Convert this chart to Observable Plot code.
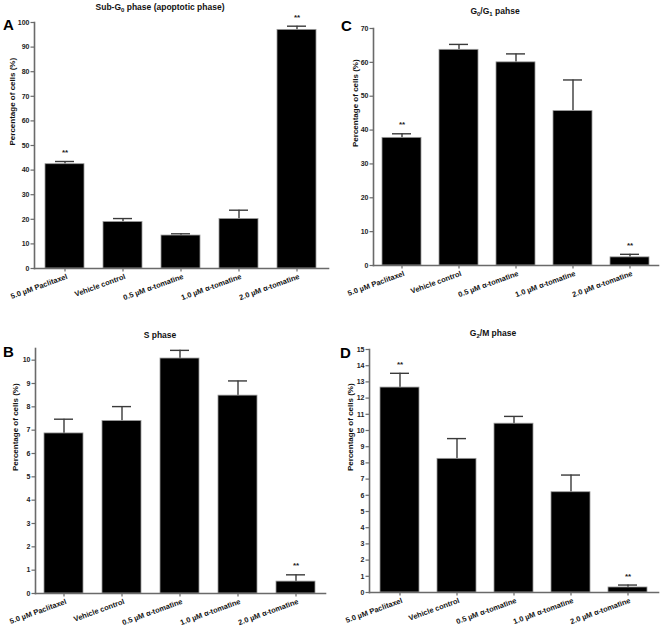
<!DOCTYPE html>
<html>
<head>
<meta charset="utf-8">
<script src="https://cdn.jsdelivr.net/npm/d3@7"></script>
<script src="https://cdn.jsdelivr.net/npm/@observablehq/plot@0.6"></script>
<style>
  html, body { margin: 0; padding: 0; background: #fff; }
  #wrap { position: relative; width: 661px; height: 632px; font-family: "Liberation Sans", Arial, sans-serif; }
  .panel { position: absolute; }
  .title { position: absolute; font-size: 8.5px; font-weight: bold; color: #111; transform: translate(-50%, -50%); white-space: nowrap; }
  .title sub { font-size: 6px; vertical-align: -2px; line-height: 0; }
  .letter { position: absolute; font-size: 15px; font-weight: bold; color: #000; line-height: 1; }
</style>
</head>
<body>
<div id="wrap"></div>
<script>
const groups = ["5.0 µM Paclitaxel", "Vehicle control", "0.5 µM α-tomatine", "1.0 µM α-tomatine", "2.0 µM α-tomatine"];

// A: Sub-G0 phase
const subG0Mean = [42.4, 18.9, 13.4, 20.1, 97.0];
const subG0Err  = [1.1, 1.4, 0.7, 3.6, 1.5];
const subG0Sig  = ["**", "", "", "", "**"];

// B: S phase
const sMean = [6.86, 7.39, 10.07, 8.48, 0.51];
const sErr  = [0.61, 0.62, 0.35, 0.63, 0.29];
const sSig  = ["", "", "", "", "**"];

// C: G0/G1 phase
const g0g1Mean = [37.7, 63.7, 60.0, 45.6, 2.4];
const g0g1Err  = [1.2, 1.6, 2.5, 9.2, 0.9];
const g0g1Sig  = ["**", "", "", "", "**"];

// D: G2/M phase
const g2mMean = [12.65, 8.25, 10.42, 6.19, 0.31];
const g2mErr  = [0.88, 1.25, 0.45, 1.06, 0.15];
const g2mSig  = ["**", "", "", "", "**"];

const yTicksA = d3.range(0, 101, 10);
const yTicksB = d3.range(0, 11, 1);
const yTicksC = d3.range(0, 71, 10);
const yTicksD = d3.range(0, 16, 1);

const yLabel = "Percentage of cells (%)";

const panels = [
  {letter: "A", title: "Sub-G<sub>0</sub> phase (apoptotic phase)", mean: subG0Mean, err: subG0Err, sig: subG0Sig,
   domain: [0, 100], ticks: yTicksA, left: 0, top: 0, width: 330, height: 316, ml: 34, mr: 2, mt: 22, mb: 48, labelDx: -22,
   titleX: 160, titleY: 7, letterX: 3, letterY: 17},
  {letter: "C", title: "G<sub>0</sub>/G<sub>1</sub> pahse", mean: g0g1Mean, err: g0g1Err, sig: g0g1Sig,
   domain: [0, 70], ticks: yTicksC, left: 330, top: 0, width: 331, height: 316, ml: 43, mr: 3, mt: 28, mb: 51, labelDx: -18,
   titleX: 495, titleY: 10.5, letterX: 341, letterY: 18},
  {letter: "B", title: "S phase", mean: sMean, err: sErr, sig: sSig,
   domain: [0, 10.5], ticks: yTicksB, left: 0, top: 316, width: 330, height: 316, ml: 35, mr: 5, mt: 32, mb: 39, labelDx: -20,
   titleX: 160, titleY: 335, letterX: 3, letterY: 344},
  {letter: "D", title: "G<sub>2</sub>/M phase", mean: g2mMean, err: g2mErr, sig: g2mSig,
   domain: [0, 15], ticks: yTicksD, left: 330, top: 316, width: 331, height: 316, ml: 39, mr: 3, mt: 33, mb: 40, labelDx: -19,
   titleX: 493, titleY: 333, letterX: 340, letterY: 345}
];

const wrap = document.getElementById("wrap");
const axisColor = "#6a6a6a";

for (const p of panels) {
  const data = groups.map((g, i) => ({g, mean: p.mean[i], top: p.mean[i] + p.err[i], sig: p.sig[i]}));
  const chart = Plot.plot({
    width: p.width,
    height: p.height,
    marginLeft: p.ml,
    marginRight: p.mr,
    marginTop: p.mt,
    marginBottom: p.mb,
    style: {fontFamily: "'Liberation Sans', Arial, sans-serif", background: "transparent", overflow: "visible"},
    x: {domain: groups, paddingInner: 0.32, paddingOuter: 0.16, label: null},
    y: {domain: p.domain, label: null},
    marks: [
      Plot.ruleX(data, {x: "g", y1: "mean", y2: "top", stroke: "#3a3a3a", strokeWidth: 1.4}),
      Plot.tickY(data, {x: "g", y: "top", stroke: "#3a3a3a", strokeWidth: 1.4, insetLeft: 10, insetRight: 10}),
      Plot.barY(data, {x: "g", y: "mean", fill: "#000", stroke: "#9a9a9a", strokeWidth: 0.8}),
      Plot.text(data, {x: "g", y: "top", text: "sig", dy: -9, fontSize: 8, fontWeight: "bold", fill: "#222"}),
      Plot.frame({anchor: "left", stroke: axisColor, strokeWidth: 1.6}),
      Plot.frame({anchor: "bottom", stroke: axisColor, strokeWidth: 1.6}),
      Plot.axisY({ticks: p.ticks, tickSize: 3.5, tickPadding: 1.5, fontSize: 7, fontWeight: "bold", stroke: axisColor, strokeWidth: 1.2, label: null, fill: "#222"}),
      Plot.axisX({tickSize: 3.5, tickFormat: () => "", stroke: axisColor, strokeWidth: 1.2, label: null}),
      Plot.text(data, {x: "g", frameAnchor: "bottom", text: "g", rotate: -20, textAnchor: "end", dx: 3, dy: 10, fontSize: 7.5, fontWeight: "bold", fill: "#111"}),
      Plot.text([yLabel], {frameAnchor: "left", rotate: -90, dx: p.labelDx, fontSize: 8, fontWeight: "bold", fill: "#111", text: d => d})
    ]
  });
  const holder = document.createElement("div");
  holder.className = "panel";
  holder.style.left = p.left + "px";
  holder.style.top = p.top + "px";
  holder.appendChild(chart);
  wrap.appendChild(holder);

  const t = document.createElement("div");
  t.className = "title";
  t.style.left = p.titleX + "px";
  t.style.top = p.titleY + "px";
  t.innerHTML = p.title;
  wrap.appendChild(t);

  const l = document.createElement("div");
  l.className = "letter";
  l.style.left = p.letterX + "px";
  l.style.top = p.letterY + "px";
  l.textContent = p.letter;
  wrap.appendChild(l);
}
</script>
</body>
</html>
